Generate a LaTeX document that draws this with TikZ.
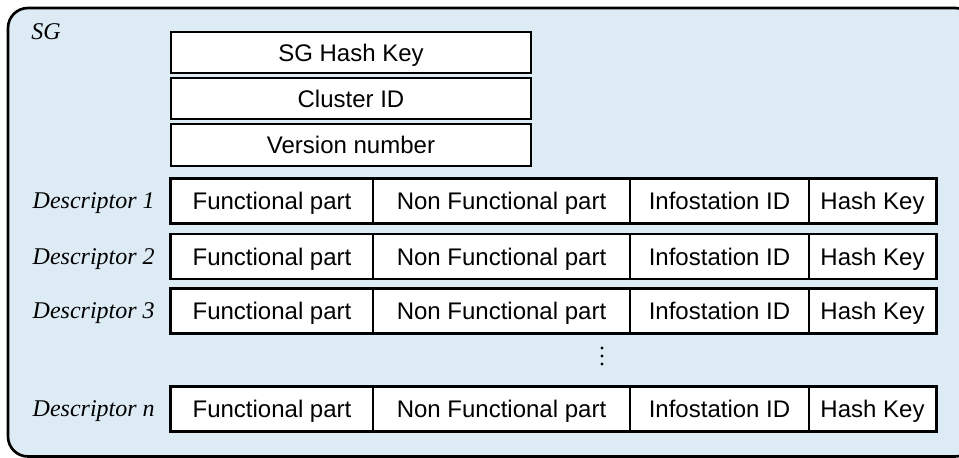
\documentclass[tikz,border=0pt]{standalone}
\usepackage{fontspec}
\setmainfont{Liberation Serif}
\setsansfont{Liberation Sans}
\definecolor{sgbg}{RGB}{221,235,245}
\begin{document}
\begin{tikzpicture}[x=0.75pt,y=-0.75pt,
  cell/.style={draw=black, line width=0.9pt, fill=white, inner sep=0pt, anchor=center,
    minimum height=33pt, text height=12.9pt, text depth=0pt,
    font=\sffamily\fontsize{18}{20}\selectfont},
  topbox/.style={cell, line width=1.4pt, minimum width=270pt, minimum height=31pt},
  rowframe/.style={draw=black, line width=1.5pt},
  desclabel/.style={anchor=east, inner sep=0pt, text height=11.9pt, text depth=0pt,
    font=\itshape\fontsize{18}{20}\selectfont},
  sgframe/.style={draw=black, line width=2pt, fill=sgbg, rounded corners=15pt}]
\useasboundingbox (0,0) rectangle (959,457);
\clip (0,0) rectangle (959,457);
\path[sgframe] (8,8) rectangle (975,456.5);
\node[anchor=north west, inner sep=0pt, font=\itshape\fontsize{18}{20}\selectfont] (sg) at (31,23) {SG};
\node[topbox] (hk) at (351,52.5) {SG Hash Key};
\node[topbox] (cid) at (351,98.5) {Cluster ID};
\node[topbox] (ver) at (351,145) {Version number};
\foreach \n/\lab/\yy in {1/1/201, 2/2/256.5, 3/3/311, n/n/409} {
  \node[cell, minimum width=151.5pt] (f\n) at (272,\yy) {Functional part};
  \node[cell, minimum width=192.75pt] (nf\n) at (501.5,\yy) {Non Functional part};
  \node[cell, minimum width=134.25pt] (in\n) at (719.5,\yy) {Infostation ID};
  \node[cell, minimum width=95.25pt] (h\n) at (872.5,\yy) {Hash Key};
  \draw[rowframe] (f\n.north west) rectangle (h\n.south east);
  \node[desclabel] (l\n) at (155,\yy) {Descriptor \lab};
}
\foreach \yy in {348,356,364} \fill (602,\yy) circle (1.2pt);
\end{tikzpicture}
\end{document}
